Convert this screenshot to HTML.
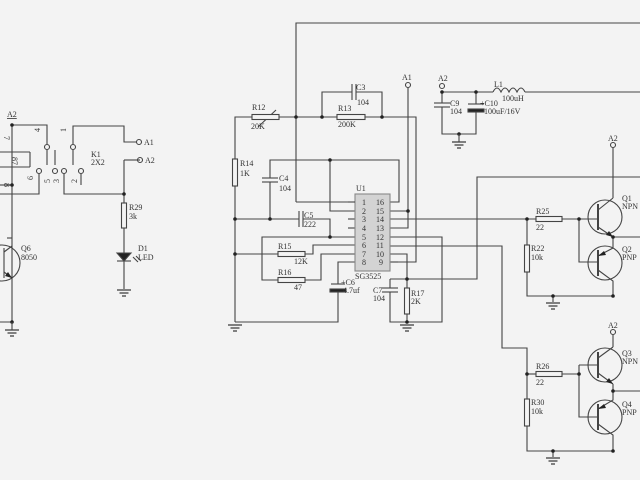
<!DOCTYPE html>
<html><head><meta charset="utf-8"><style>
html,body{margin:0;padding:0;background:#f3f3f3;}
svg{display:block}
text{font-family:"Liberation Serif",serif;font-size:8px;fill:#333}
</style></head><body>
<svg width="640" height="480" viewBox="0 0 640 480" xmlns="http://www.w3.org/2000/svg">
<rect width="640" height="480" fill="#f3f3f3"/>
<defs>
<g id="gnd" stroke="#333" stroke-width="1.2"><line x1="-7" y1="0" x2="7" y2="0"/><line x1="-4.5" y1="3" x2="4.5" y2="3"/><line x1="-2" y1="6" x2="2" y2="6"/></g>
</defs>
<g stroke="#444" stroke-width="1.1" fill="none">
<!-- top wire -->
<polyline points="296,202 296,23 640,23"/>
<line x1="296" y1="202" x2="355" y2="202"/>
<!-- R12 line -->
<polyline points="235,322 235,117 416,117 416,262 398,262"/>
<polyline points="322,117 322,92 352,92"/><polyline points="356,92 382,92 382,117"/>
<line x1="352" y1="84" x2="352" y2="100"/><line x1="356" y1="84" x2="356" y2="100"/>
<!-- C4 loop -->
<polyline points="235,219 270,219 270,182"/><polyline points="270,178 270,160 399,160 399,202 390,202"/>
<line x1="262" y1="178" x2="278" y2="178"/><line x1="262" y1="182" x2="278" y2="182"/>
<polyline points="330,160 330,211 355,211"/>
<!-- C5 -->
<line x1="270" y1="219" x2="299" y2="219"/><polyline points="303,219 330,219 330,237"/>
<line x1="299" y1="211" x2="299" y2="227"/><line x1="303" y1="211" x2="303" y2="227"/>
<polyline points="355,237 262,237 262,280 278,280"/>
<polyline points="305,280 321,280 321,254 355,254"/>
<line x1="235" y1="254" x2="278" y2="254"/>
<polyline points="305,254 313,254 313,245 355,245"/>
<!-- pin8 / C6 -->
<polyline points="355,262 338,262 338,284"/><polyline points="338,290 338,322 235,322"/>
<line x1="348" y1="219" x2="355" y2="219"/><line x1="348" y1="228" x2="355" y2="228"/>
<!-- A1 -->
<polyline points="408,88 408,228 390,228"/><line x1="390" y1="211" x2="408" y2="211"/>
<!-- pin10 / R17 -->
<polyline points="390,254 407,254 407,322"/>
<polyline points="390,279 477,279 477,177 640,177"/>
<polyline points="390,279 390,288"/><polyline points="390,292 390,322 442,322 442,237 390,237"/>
<line x1="382" y1="288" x2="398" y2="288"/><line x1="382" y1="292" x2="398" y2="292"/>
<!-- pin14, pin11 -->
<line x1="390" y1="219" x2="536" y2="219"/>
<polyline points="390,246 502,246 502,348 527,348 527,399"/>
<polyline points="527,374 536,374"/>
<line x1="390" y1="262" x2="398" y2="262"/>
<!-- C9 C10 L1 -->
<polyline points="442,92 442,103"/><polyline points="442,107 442,134 476,134 476,111"/>
<line x1="434" y1="103" x2="450" y2="103"/><line x1="434" y1="107" x2="450" y2="107"/>
<polyline points="442,92 476,92 476,104"/>
<line x1="476" y1="92" x2="493" y2="92"/>
<path d="M493,92 q4,-8 8,0 q4,-8 8,0 q4,-8 8,0 q4,-8 8,0"/>
<line x1="525" y1="92" x2="640" y2="92"/>
<!-- Q1/Q2 -->
<line x1="613" y1="148" x2="613" y2="198"/>
<line x1="562" y1="219" x2="579" y2="219"/><polyline points="579,219 579,262 598,262"/>
<line x1="579" y1="219" x2="598" y2="219"/>
<circle cx="605" cy="217" r="17"/><circle cx="605" cy="263" r="17"/>
<line x1="613" y1="198" x2="598" y2="210"/><line x1="598" y1="227" x2="613" y2="237"/>
<polyline points="613,237 613,248 598,256"/><polyline points="598,270 613,281 613,296"/>
<line x1="613" y1="237" x2="640" y2="237"/>
<polyline points="527,219 527,245"/><polyline points="527,272 527,296 613,296"/>
<!-- Q3/Q4 -->
<line x1="613" y1="335" x2="613" y2="347"/>
<line x1="562" y1="374" x2="579" y2="374"/><polyline points="579,365 579,417 598,417"/>
<line x1="579" y1="365" x2="598" y2="365"/>
<circle cx="605" cy="365" r="17"/><circle cx="605" cy="417" r="17"/>
<line x1="613" y1="347" x2="598" y2="358"/><line x1="598" y1="373" x2="613" y2="384"/>
<polyline points="613,384 613,400 598,409"/><polyline points="598,424 613,435 613,451"/>
<line x1="613" y1="391" x2="640" y2="391"/>
<polyline points="527,426 527,451 613,451"/>
<line x1="553" y1="296" x2="553" y2="302"/><line x1="553" y1="451" x2="553" y2="457"/>
<!-- left section -->
<polyline points="12,125 12,322 0,322"/>
<polyline points="12,125 47,125 47,144"/>
<line x1="0" y1="185" x2="12" y2="185"/>
<polyline points="39,174 39,194 0,194"/>
<polyline points="64,174 64,194 124,194"/>
<polyline points="124,160 140,160"/><polyline points="124,160 124,203"/>
<polyline points="73,144 73,126 124,126 124,142 136,142"/>
<line x1="55" y1="150" x2="55" y2="165"/><line x1="81" y1="174" x2="81" y2="185"/>
<line x1="47" y1="150" x2="47" y2="165"/><line x1="73" y1="150" x2="73" y2="165"/>
<polyline points="124,228 124,289"/>
<line x1="7" y1="238" x2="12" y2="238"/>
<circle cx="2" cy="263" r="18"/>
<line x1="4" y1="252" x2="12" y2="246"/><line x1="4" y1="272" x2="12" y2="278"/>
<line x1="4" y1="248" x2="4" y2="278"/>
<!-- circles (terminals) -->
<circle cx="408" cy="85" r="2.5"/><circle cx="442" cy="86" r="2.5"/>
<circle cx="613" cy="145" r="2.5"/><circle cx="613" cy="332" r="2.5"/>
<circle cx="139" cy="142" r="2.5"/><circle cx="140" cy="160" r="2.5"/>
<circle cx="47" cy="147" r="2.5"/><circle cx="73" cy="147" r="2.5"/>
<circle cx="39" cy="171" r="2.5"/><circle cx="55" cy="171" r="2.5"/><circle cx="64" cy="171" r="2.5"/><circle cx="81" cy="171" r="2.5"/>
<line x1="0" y1="152" x2="30" y2="152"/><line x1="30" y1="152" x2="30" y2="167"/><line x1="0" y1="167" x2="30" y2="167"/>
<!-- R12 arrow -->
<line x1="258" y1="127" x2="276" y2="110"/>
</g>
<!-- resistors -->
<g fill="#f3f3f3" stroke="#444" stroke-width="1.1">
<rect x="252" y="114.5" width="27" height="5"/>
<rect x="337" y="114.5" width="28" height="5"/>
<rect x="232.5" y="159" width="5" height="27"/>
<rect x="278" y="251.5" width="27" height="5"/>
<rect x="278" y="277.5" width="27" height="5"/>
<rect x="404.5" y="288" width="5" height="26"/>
<rect x="536" y="216.5" width="26" height="5"/>
<rect x="536" y="371.5" width="26" height="5"/>
<rect x="524.5" y="245" width="5" height="27"/>
<rect x="524.5" y="399" width="5" height="27"/>
<rect x="121.5" y="203" width="5" height="25"/>
<rect x="355" y="194" width="35" height="77" fill="#d3d3d3" stroke="#888"/>
</g>
<g stroke="#444" stroke-width="1.1">
<line x1="348" y1="202" x2="355" y2="202"/>
<line x1="331" y1="284" x2="345" y2="284"/>
<rect x="330" y="289" width="16" height="3" fill="#222"/>
<line x1="468" y1="104" x2="484" y2="104"/>
<rect x="468" y="109" width="16" height="3" fill="#222"/>
<line x1="598" y1="204" x2="598" y2="230" stroke-width="2"/><line x1="598" y1="250" x2="598" y2="276" stroke-width="2"/>
<line x1="598" y1="352" x2="598" y2="378" stroke-width="2"/><line x1="598" y1="404" x2="598" y2="430" stroke-width="2"/>
<polygon points="117,253 131,253 124,261" fill="#222"/><line x1="117" y1="261" x2="131" y2="261"/>
<line x1="133" y1="257" x2="138" y2="262"/><line x1="136" y1="256" x2="141" y2="261"/>
</g>
<g fill="#222">
<polygon points="613,237 606,235 609,231"/><polygon points="598,256 604,251 606,255"/>
<polygon points="613,384 606,382 609,378"/><polygon points="598,409 604,404 606,408"/>
<polygon points="12,278 5,276 8,272"/>
<circle cx="296" cy="117" r="1.8"/><circle cx="322" cy="117" r="1.8"/><circle cx="382" cy="117" r="1.8"/>
<circle cx="235" cy="219" r="1.8"/><circle cx="270" cy="219" r="1.8"/><circle cx="235" cy="254" r="1.8"/>
<circle cx="330" cy="160" r="1.8"/><circle cx="330" cy="237" r="1.8"/><circle cx="408" cy="211" r="1.8"/>
<circle cx="407" cy="279" r="1.8"/><circle cx="407" cy="322" r="1.8"/>
<circle cx="442" cy="92" r="1.8"/><circle cx="476" cy="92" r="1.8"/><circle cx="459" cy="134" r="1.8"/>
<circle cx="527" cy="219" r="1.8"/><circle cx="579" cy="219" r="1.8"/><circle cx="613" cy="237" r="1.8"/>
<circle cx="613" cy="296" r="1.8"/><circle cx="553" cy="296" r="1.8"/>
<circle cx="527" cy="374" r="1.8"/><circle cx="579" cy="374" r="1.8"/><circle cx="613" cy="391" r="1.8"/>
<circle cx="613" cy="451" r="1.8"/><circle cx="553" cy="451" r="1.8"/>
<circle cx="12" cy="125" r="1.8"/><circle cx="12" cy="185" r="1.8"/><circle cx="124" cy="194" r="1.8"/><circle cx="12" cy="322" r="1.8"/>
</g>
<use href="#gnd" x="235" y="325"/><use href="#gnd" x="407" y="325"/><use href="#gnd" x="459" y="142"/>
<use href="#gnd" x="553" y="303"/><use href="#gnd" x="553" y="458"/><use href="#gnd" x="124" y="290"/><use href="#gnd" x="12" y="330"/>
<line x1="459" y1="134" x2="459" y2="142" stroke="#444" stroke-width="1.1"/>
<line x1="12" y1="322" x2="12" y2="330" stroke="#444" stroke-width="1.1"/>
<!-- labels -->
<text x="252" y="110">R12</text><text x="251" y="129">20K</text>
<text x="338" y="111">R13</text><text x="338" y="127">200K</text>
<text x="356" y="90">C3</text><text x="357" y="105">104</text>
<text x="240" y="166">R14</text><text x="240" y="176">1K</text>
<text x="279" y="181">C4</text><text x="279" y="191">104</text>
<text x="304" y="218">C5</text><text x="304" y="227">222</text>
<text x="278" y="249">R15</text><text x="294" y="264">12K</text>
<text x="278" y="275">R16</text><text x="294" y="290">47</text>
<text x="341" y="285">+C6</text><text x="343" y="293">4.7uf</text>
<text x="356" y="191">U1</text><text x="355" y="279">SG3525</text>
<text x="373" y="293">C7</text><text x="373" y="301">104</text>
<text x="411" y="296">R17</text><text x="411" y="304">2K</text>
<text x="402" y="80">A1</text><text x="438" y="81">A2</text>
<text x="450" y="106">C9</text><text x="450" y="114">104</text>
<text x="480" y="106">+C10</text><text x="484" y="114">100uF/16V</text>
<text x="494" y="87">L1</text><text x="502" y="101">100uH</text>
<text x="608" y="141">A2</text><text x="608" y="328">A2</text>
<text x="622" y="201">Q1</text><text x="622" y="209">NPN</text>
<text x="622" y="252">Q2</text><text x="622" y="260">PNP</text>
<text x="622" y="356">Q3</text><text x="622" y="364">NPN</text>
<text x="622" y="407">Q4</text><text x="622" y="415">PNP</text>
<text x="536" y="214">R25</text><text x="536" y="230">22</text>
<text x="536" y="369">R26</text><text x="536" y="385">22</text>
<text x="531" y="251">R22</text><text x="531" y="260">10k</text>
<text x="531" y="405">R30</text><text x="531" y="414">10k</text>
<text x="7" y="117" text-decoration="underline">A2</text>
<text x="91" y="157">K1</text><text x="91" y="165">2X2</text>
<text x="144" y="145">A1</text><text x="145" y="163">A2</text>
<text x="129" y="210">R29</text><text x="129" y="219">3k</text>
<text x="138" y="251">D1</text><text x="138" y="260">LED</text>
<text x="21" y="251">Q6</text><text x="21" y="260">8050</text>
<g font-size="7">
<text x="362" y="205">1</text><text x="362" y="214">2</text><text x="362" y="222">3</text><text x="362" y="231">4</text><text x="362" y="240">5</text><text x="362" y="248">6</text><text x="362" y="257">7</text><text x="362" y="265">8</text>
<text x="376" y="205">16</text><text x="376" y="214">15</text><text x="376" y="222">14</text><text x="376" y="231">13</text><text x="376" y="240">12</text><text x="376" y="248">11</text><text x="376" y="257">10</text><text x="379" y="265">9</text>
</g>
<g font-size="7">
<text transform="translate(4,136) rotate(90)">7</text><text transform="translate(4,183) rotate(90)">8</text>
<text transform="translate(12,157) rotate(90)">87</text>
<text transform="translate(40,132) rotate(-90)">4</text><text transform="translate(66,132) rotate(-90)">1</text>
<text transform="translate(33,180) rotate(-90)">6</text><text transform="translate(50,183) rotate(-90)">5</text><text transform="translate(59,183) rotate(-90)">3</text><text transform="translate(77,183) rotate(-90)">2</text>
</g>
</svg>
</body></html>
